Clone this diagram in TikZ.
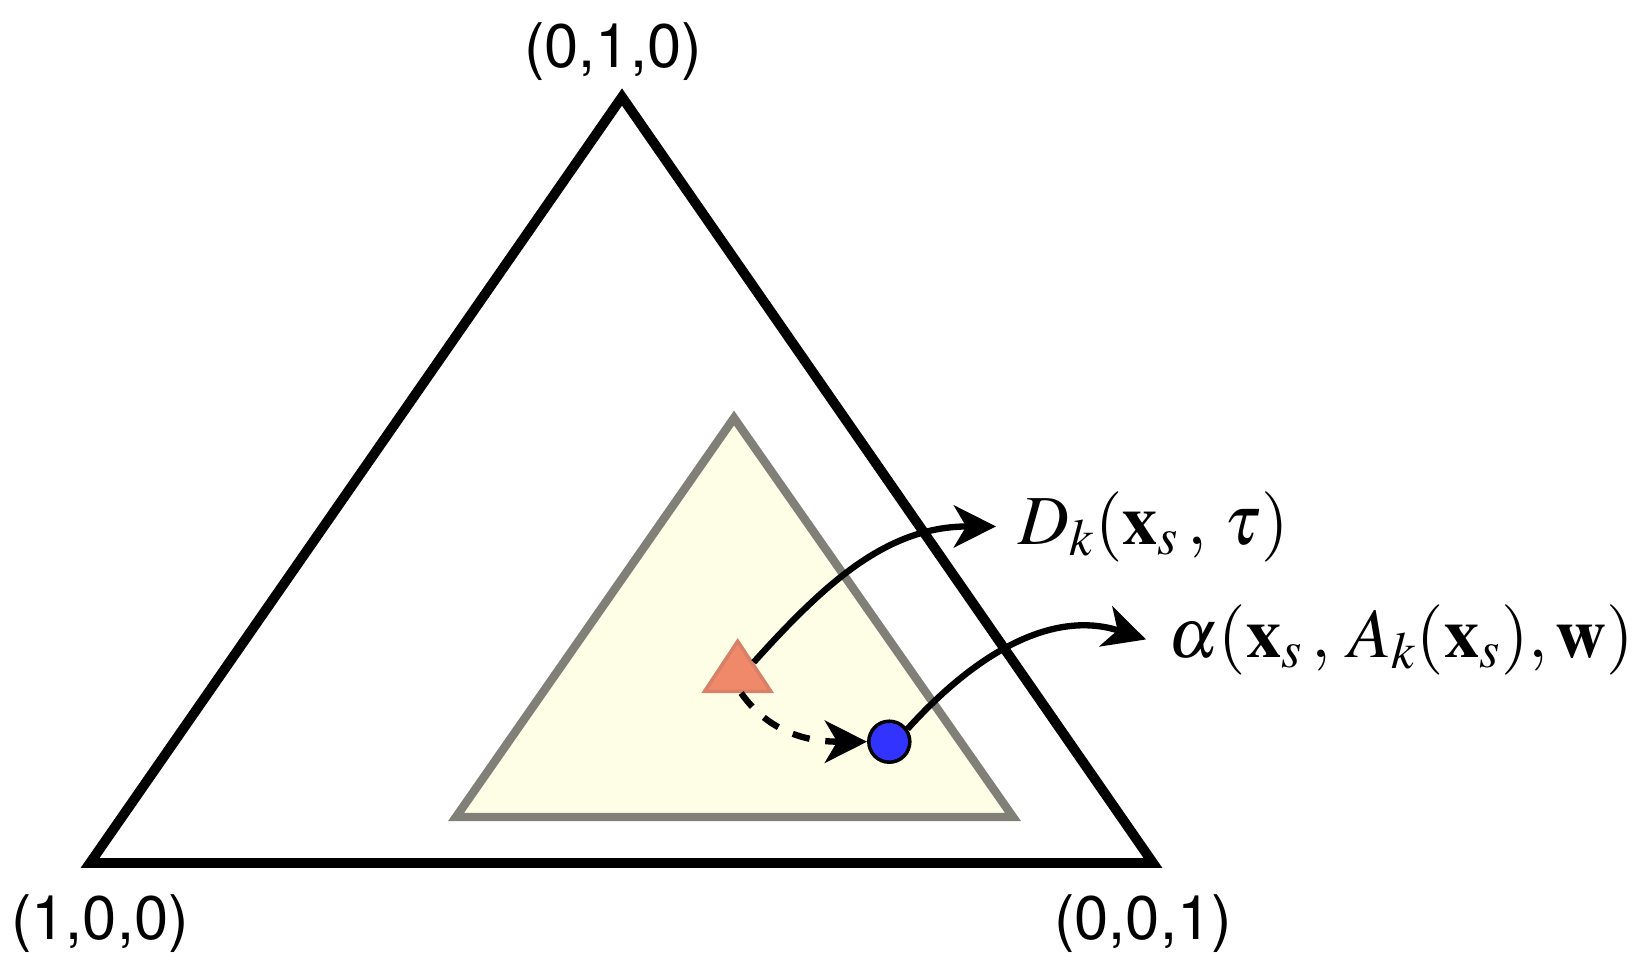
\documentclass[tikz,border=0pt]{standalone}
\usepackage{amsmath, amssymb}
\usepackage{mathptmx}
\usepackage[no-math]{fontspec}
\newfontfamily\vertexfont{TeX Gyre Heros}
\usepackage{tikz}
\usetikzlibrary{arrows.meta, shapes.geometric}

\definecolor{simplexfill}{RGB}{254,254,230}
\definecolor{simplexgray}{RGB}{128,128,120}
\definecolor{startfill}{RGB}{240,137,106}
\definecolor{startdraw}{RGB}{217,128,104}
\definecolor{pointblue}{RGB}{51,51,255}

\begin{document}
\begin{tikzpicture}[
        vertex/.style={font=\vertexfont\fontsize{17.5}{20}\selectfont, inner sep=0pt},
        maplabel/.style={font=\fontsize{20}{24}\selectfont, inner xsep=0.22cm, inner ysep=0pt, anchor=base west},
        link/.style={-{Stealth[length=12pt, width=12pt, inset=3.5pt]}, line width=1.8pt}
    ]
        \useasboundingbox (0,0) rectangle (16.49,9.69);

        \coordinate (e1) at (0.90,1.06);
        \coordinate (e2) at (6.22,8.72);
        \coordinate (e3) at (11.53,1.06);
        \draw[line width=2.8pt] (e1) -- (e2) -- (e3) -- cycle;

        \coordinate (d1) at (4.56,1.52);
        \coordinate (d2) at (7.34,5.51);
        \coordinate (d3) at (10.13,1.52);
        \filldraw[fill=simplexfill, draw=simplexgray, line width=2.4pt] (d1) -- (d2) -- (d3) -- cycle;

        \node[vertex] (100) at (1.00,0.45) {(1,0,0)};
        \node[vertex] (010) at (6.13,9.17) {(0,1,0)};
        \node[vertex] (001) at (11.43,0.45) {(0,0,1)};

        \node[isosceles triangle, isosceles triangle apex angle=67, shape border rotate=90,
            minimum height=0.5cm, inner sep=0pt, fill=startfill, draw=startdraw, line width=1pt] (start) at (7.377,2.955) {};
        \node[circle, minimum size=0.41cm, inner sep=0pt, fill=pointblue, draw, line width=1pt] (point) at (8.893,2.273) {};

        \node[maplabel] (Dk) at (9.96,4.25) {$D_k(\mathbf{x}_s\,,\: \tau)$};
        \node[maplabel] (alpha) at (11.46,3.12) {$\alpha(\mathbf{x}_s\,,\: A_k(\mathbf{x}_s), \mathbf{w})$};

        \draw[link] (start.35) to[out=48, in=180] (Dk.west);
        \draw[link] (point.35) to[out=48, in=162] (alpha.west);
        \draw[link, dash pattern=on 5pt off 4.5pt] (start.-80) to[out=-55, in=180] (point.west);
    \end{tikzpicture}
\end{document}
